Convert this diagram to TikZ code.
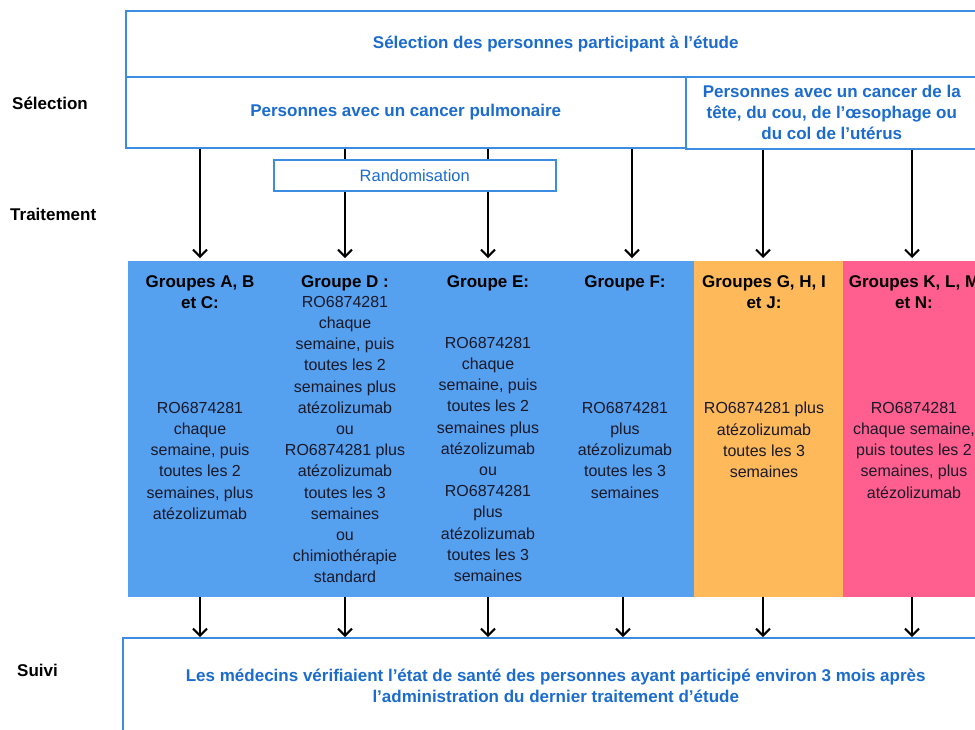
\documentclass[tikz,border=0pt]{standalone}
\usepackage{fontspec}
\setmainfont{Liberation Sans}
\usetikzlibrary{arrows.meta}
\definecolor{tblue}{RGB}{28,108,205}
\definecolor{bline}{RGB}{60,140,225}
\definecolor{cblue}{RGB}{86,160,240}
\definecolor{corange}{RGB}{253,185,90}
\definecolor{cpink}{RGB}{255,95,143}
\definecolor{ctext}{RGB}{25,25,40}
\tikzset{
  bbox/.style={draw=bline, line width=1.5pt, fill=white, inner sep=0pt, anchor=north west,
    text=tblue, font=\fontsize{17}{21}\selectfont\bfseries, align=center},
  bg/.style={inner sep=0pt, anchor=north west, draw=none},
  head/.style={inner sep=0pt, anchor=north, align=center, text=black,
    font=\fontsize{17}{21.2}\selectfont\bfseries},
  body/.style={inner sep=0pt, anchor=north, align=center, text=ctext,
    font=\fontsize{16}{21.2}\selectfont},
  side/.style={inner sep=0pt, anchor=west, text=black, font=\fontsize{17}{20}\selectfont\bfseries},
  arr/.style={line width=2pt, -{Straight Barb[length=7pt,width=14pt,line width=2pt]}},
  plain/.style={line width=2pt}
}
\begin{document}
\begin{tikzpicture}[x=1pt,y=-1pt]
\clip (0,0) rectangle (975,729);
\fill[white] (0,0) rectangle (975,729);
% boxes
\node[bbox, minimum width=860pt, minimum height=66pt] (sel) at (125,10) {S\'election des personnes participant \`a l’\'etude};
\node[bbox, minimum width=560pt, minimum height=71pt] (lung) at (125,76) {Personnes avec un cancer pulmonaire};
\node[bbox, minimum width=292pt, minimum height=72pt] (hn) at (685,76) {Personnes avec un cancer de la\\t\^ete, du cou, de l’\oe sophage ou\\du col de l’ut\'erus};
\node[bbox, font=\fontsize{16.5}{20}\selectfont, minimum width=282pt, minimum height=31pt] (rand) at (273,159) {Randomisation};
\node[bbox, minimum width=866pt, minimum height=97pt] (foot) at (122,637) {Les m\'edecins v\'erifiaient l’\'etat de sant\'e des personnes ayant particip\'e environ 3 mois apr\`es\\l’administration du dernier traitement d’\'etude};
% coloured backgrounds
\node[bg, fill=cblue, minimum width=566pt, minimum height=336pt] (bgb) at (128,261) {};
\node[bg, fill=corange, minimum width=149pt, minimum height=336pt] (bgo) at (694,261) {};
\node[bg, fill=cpink, minimum width=142pt, minimum height=336pt] (bgp) at (843,261) {};
% side labels
\node[side] (lsel) at (12,103) {S\'election};
\node[side] (ltrt) at (10,214) {Traitement};
\node[side] (lsuivi) at (17,670) {Suivi};
% column texts
\node[head] (h1) at (200,275) {Groupes A, B\\et C:};
\node[body] (t1) at (200,402) {RO6874281\\chaque\\semaine, puis\\toutes les 2\\semaines, plus\\at\'ezolizumab};
\node[head] (h2) at (345,275) {Groupe D :};
\node[body] (t2) at (345,296) {RO6874281\\chaque\\semaine, puis\\toutes les 2\\semaines plus\\at\'ezolizumab\\ou\\RO6874281 plus\\at\'ezolizumab\\toutes les 3\\semaines\\ou\\chimioth\'erapie\\standard};
\node[head] (h3) at (488,275) {Groupe E:};
\node[body] (t3) at (488,337) {RO6874281\\chaque\\semaine, puis\\toutes les 2\\semaines plus\\at\'ezolizumab\\ou\\RO6874281\\plus\\at\'ezolizumab\\toutes les 3\\semaines};
\node[head] (h4) at (625,275) {Groupe F:};
\node[body] (t4) at (625,402) {RO6874281\\plus\\at\'ezolizumab\\toutes les 3\\semaines};
\node[head] (h5) at (764,275) {Groupes G, H, I\\et J:};
\node[body] (t5) at (764,402) {RO6874281 plus\\at\'ezolizumab\\toutes les 3\\semaines};
\node[head] (h6) at (914,275) {Groupes K, L, M\\et N:};
\node[body] (t6) at (914,402) {RO6874281\\chaque semaine,\\puis toutes les 2\\semaines, plus\\at\'ezolizumab};
% arrow x positions
\coordinate (c1) at (200,0);
\coordinate (c2) at (345,0);
\coordinate (c3) at (488,0);
\coordinate (c4) at (632,0);
\coordinate (c5) at (763,0);
\coordinate (c6) at (912,0);
\coordinate (d4) at (623,0);
% top connectors
\draw[arr, shorten >=3pt] (lung.south -| c1) -- (bgb.north -| c1);
\draw[plain] (lung.south -| c2) -- (rand.north -| c2);
\draw[arr, shorten >=3pt] (rand.south -| c2) -- (bgb.north -| c2);
\draw[plain] (lung.south -| c3) -- (rand.north -| c3);
\draw[arr, shorten >=3pt] (rand.south -| c3) -- (bgb.north -| c3);
\draw[arr, shorten >=3pt] (lung.south -| c4) -- (bgb.north -| c4);
\draw[arr, shorten >=3pt] (hn.south -| c5) -- (bgo.north -| c5);
\draw[arr, shorten >=3pt] (hn.south -| c6) -- (bgp.north -| c6);
% bottom connectors
\draw[arr] (bgb.south -| c1) -- (foot.north -| c1);
\draw[arr] (bgb.south -| c2) -- (foot.north -| c2);
\draw[arr] (bgb.south -| c3) -- (foot.north -| c3);
\draw[arr] (bgb.south -| d4) -- (foot.north -| d4);
\draw[arr] (bgo.south -| c5) -- (foot.north -| c5);
\draw[arr] (bgp.south -| c6) -- (foot.north -| c6);
\end{tikzpicture}
\end{document}
